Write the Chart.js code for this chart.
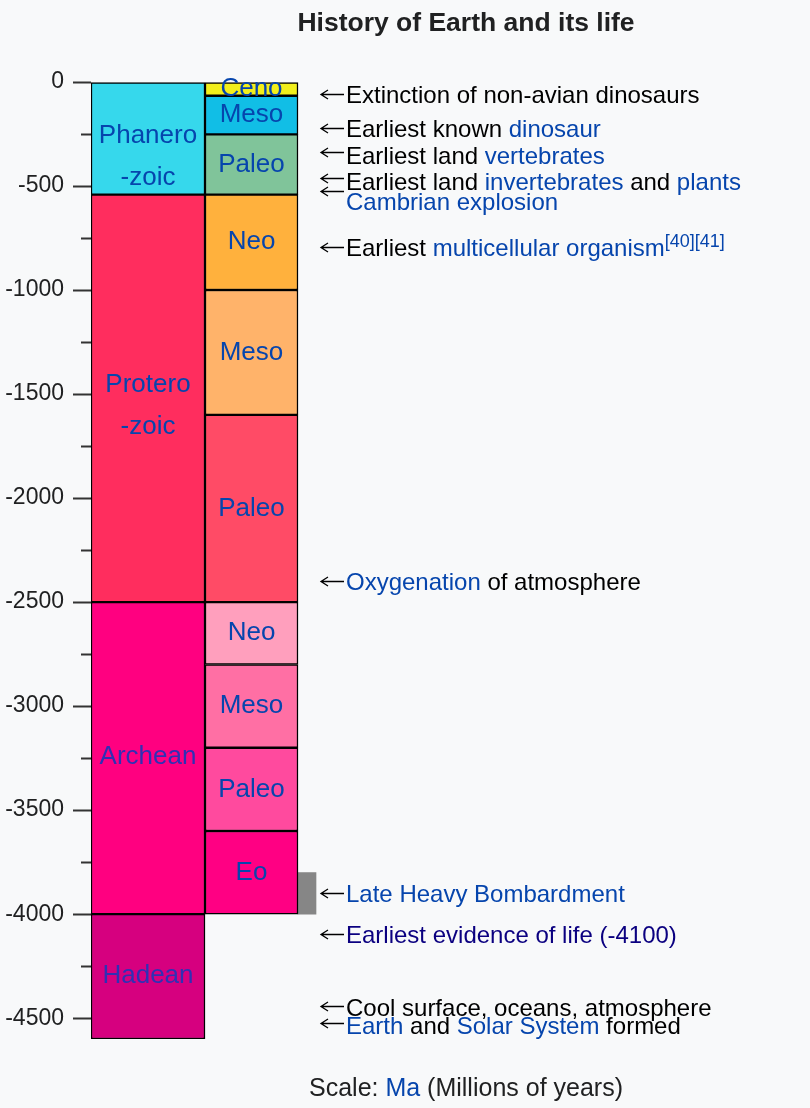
<!DOCTYPE html>
<html>
<head>
<meta charset="utf-8">
<title>History of Earth and its life</title>
<script src="https://cdn.jsdelivr.net/npm/chart.js@4/dist/chart.umd.min.js"></script>
<style>
  html, body { margin: 0; padding: 0; background: #f8f9fa; }
  #wrap { width: 810px; height: 1108px; }
</style>
</head>
<body>
<div id="wrap"><canvas id="chart" width="810" height="1108"></canvas></div>
<script>
(function(){
  'use strict';

  // eons (Ma, negative = ago)
  const eonNames = [['Phanero', '-zoic'], ['Protero', '-zoic'], ['Archean'], ['Hadean']];
  const eonTop = [0, -541, -2500, -4000];
  const eonBottom = [-541, -2500, -4000, -4600];
  const eonLabelAt = [-260, -1457, -3245, -4298];
  const eonColors = ['#36d8ec', '#ff2d5e', '#ff0080', '#d6007f'];
  const eonTextColors = ['#0645ad', '#0645ad', '#3030b4', '#3030b4'];

  // eras
  const eraNames = ['Ceno', 'Meso', 'Paleo', 'Neo', 'Meso', 'Paleo', 'Neo', 'Meso', 'Paleo', 'Eo'];
  const eraTop = [0, -66, -252, -541, -1000, -1600, -2500, -2800, -3200, -3600];
  const eraBottom = [-66, -252, -541, -1000, -1600, -2500, -2800, -3200, -3600, -4000];
  const eraColors = ['#f2ef1b', '#11bee6', '#80c49a', '#ffb13d', '#ffb36a', '#ff4b66',
                     '#ff9fbd', '#ff6fa4', '#ff4a9e', '#ff0083'];

  // late heavy bombardment
  const bombardment = [-3800, -4000];

  // events: arrow position, text position (Ma)
  const eventAt = [-60, -223, -337, -461, -524, -793, -2399, -3898, -4096, -4442, -4522];
  const eventTextAt = [-70, -232, -360, -485, -582, -803, -2409, -3908, -4105, -4456, -4543];
  // segments: [text, kind]  n = plain, l = link, v = visited link, s = superscript link
  const eventText = [
    [['Extinction of non-avian dinosaurs', 'n']],
    [['Earliest known ', 'n'], ['dinosaur', 'l']],
    [['Earliest land ', 'n'], ['vertebrates', 'l']],
    [['Earliest land ', 'n'], ['invertebrates', 'l'], [' and ', 'n'], ['plants', 'l']],
    [['Cambrian explosion', 'l']],
    [['Earliest ', 'n'], ['multicellular organism', 'l'], ['[40][41]', 's']],
    [['Oxygenation', 'l'], [' of atmosphere', 'n']],
    [['Late Heavy Bombardment', 'l']],
    [['Earliest evidence of life (-4100)', 'v']],
    [['Cool surface, oceans, atmosphere', 'n']],
    [['Earth', 'l'], [' and ', 'n'], ['Solar System', 'l'], [' formed', 'n']]
  ];

  const yMin = -4600;
  const yMax = 0;
  const tickStep = 250;
  const labelStep = 500;

  // column layout (x scale units = px inside the chart area)
  const cols = {
    eon: { center: 57, width: 114 },
    era: { center: 160.5, width: 93 },
    lhb: { center: 216, width: 18 }
  };

  const FONT = '"Liberation Sans", Arial, Helvetica, sans-serif';
  const LINK = '#0645ad';
  const VISITED = '#0b0080';
  const INK = '#202122';

  let canvas = document.getElementById('chart');

  let eonData = eonTop.map((t, i) => ({ x: cols.eon.center, y: [eonBottom[i], t] }));
  let eraData = eraTop.map((t, i) => ({ x: cols.era.center, y: [eraBottom[i], t] }));
  let lhbData = [{ x: cols.lhb.center, y: [bombardment[1], bombardment[0]] }];

  function drawArrow(ctx, x0, y0) {
    ctx.save();
    ctx.strokeStyle = '#000';
    ctx.lineWidth = 1.3;
    ctx.beginPath();
    ctx.moveTo(x0 + 1, y0);
    ctx.lineTo(x0 + 24, y0);
    ctx.moveTo(x0 + 8, y0 - 4.5);
    ctx.lineTo(x0 + 1, y0);
    ctx.lineTo(x0 + 8, y0 + 4.5);
    ctx.stroke();
    ctx.restore();
  }

  let labels = {
    id: 'timelineLabels',
    afterDatasetsDraw(chart) {
      const ctx = chart.ctx;
      const x = chart.scales.x;
      const y = chart.scales.y;
      ctx.save();
      ctx.textBaseline = 'middle';

      // title
      ctx.textAlign = 'center';
      ctx.fillStyle = INK;
      ctx.font = 'bold 26.5px ' + FONT;
      ctx.fillText('History of Earth and its life', 466, 24);

      // eon labels
      ctx.font = '26px ' + FONT;
      eonNames.forEach((lines, i) => {
        ctx.fillStyle = eonTextColors[i];
        let py = y.getPixelForValue(eonLabelAt[i]);
        lines.forEach((ln, j) => {
          ctx.fillText(ln, x.getPixelForValue(cols.eon.center), py + j * 42);
        });
      });

      // era labels
      ctx.fillStyle = LINK;
      eraNames.forEach((name, i) => {
        let py = y.getPixelForValue((eraTop[i] + eraBottom[i]) / 2);
        ctx.fillText(name, x.getPixelForValue(cols.era.center), py);
      });

      // events
      ctx.textAlign = 'left';
      let arrowX = x.getPixelForValue(cols.lhb.center + cols.lhb.width / 2) + 4;
      eventText.forEach((segs, i) => {
        drawArrow(ctx, arrowX, Math.round(y.getPixelForValue(eventAt[i])) + 0.5);
        let tx = arrowX + 26;
        let ty = y.getPixelForValue(eventTextAt[i]);
        segs.forEach(([txt, kind]) => {
          if (kind === 's') {
            ctx.font = '18px ' + FONT;
            ctx.fillStyle = LINK;
            ctx.fillText(txt, tx, ty - 7);
            tx += ctx.measureText(txt).width;
            return;
          }
          ctx.font = '24px ' + FONT;
          ctx.fillStyle = kind === 'l' ? LINK : (kind === 'v' ? VISITED : '#000');
          ctx.fillText(txt, tx, ty);
          tx += ctx.measureText(txt).width;
        });
      });

      // scale note
      ctx.font = '25px ' + FONT;
      let s1 = 'Scale: ', s2 = 'Ma', s3 = ' (Millions of years)';
      let w = ctx.measureText(s1 + s2 + s3).width;
      let sx = 466 - w / 2;
      ctx.fillStyle = INK;
      ctx.fillText(s1, sx, 1089);
      sx += ctx.measureText(s1).width;
      ctx.fillStyle = LINK;
      ctx.fillText(s2, sx, 1089);
      sx += ctx.measureText(s2).width;
      ctx.fillStyle = INK;
      ctx.fillText(s3, sx, 1089);

      ctx.restore();
    }
  };

  let barStyle = {
    borderColor: '#000',
    borderWidth: 1.5,
    borderSkipped: false,
    grouped: false
  };

  //instantiating the chart
  let timeline = new Chart(canvas, {
    type: 'bar',
    data: {
      datasets: [
        Object.assign({ label: 'Eons', data: eonData, backgroundColor: eonColors,
          barThickness: cols.eon.width }, barStyle),
        Object.assign({ label: 'Eras', data: eraData, backgroundColor: eraColors,
          barThickness: cols.era.width }, barStyle),
        { label: 'Late Heavy Bombardment', data: lhbData, backgroundColor: '#868686',
          borderWidth: 0, barThickness: cols.lhb.width, grouped: false }
      ]
    },
    options: {
      responsive: false,
      animation: false,
      layout: { padding: { top: 82, bottom: 69, left: 0, right: 0 } },
      plugins: { legend: { display: false }, tooltip: { enabled: false } },
      scales: {
        x: { type: 'linear', display: false, min: 0, max: 719, offset: false },
        y: {
          type: 'linear',
          min: yMin,
          max: yMax,
          afterFit(scale) { scale.width = 91; },
          border: { display: false },
          grid: {
            drawOnChartArea: false,
            tickLength: 18,
            tickWidth: 2,
            tickColor: (c) => (c.tick && c.tick.value % tickStep === 0) ? '#333' : 'rgba(0,0,0,0)',
            tickBorderDash: (c) => (c.tick && c.tick.value % labelStep !== 0) ? [0, 8, 10, 0] : []
          },
          ticks: {
            stepSize: tickStep,
            includeBounds: false,
            padding: 9,
            color: INK,
            font: { family: FONT, size: 23 },
            callback: (v) => (v % labelStep === 0) ? String(v) : ''
          }
        }
      }
    },
    plugins: [labels]
  });
})();
</script>
</body>
</html>
